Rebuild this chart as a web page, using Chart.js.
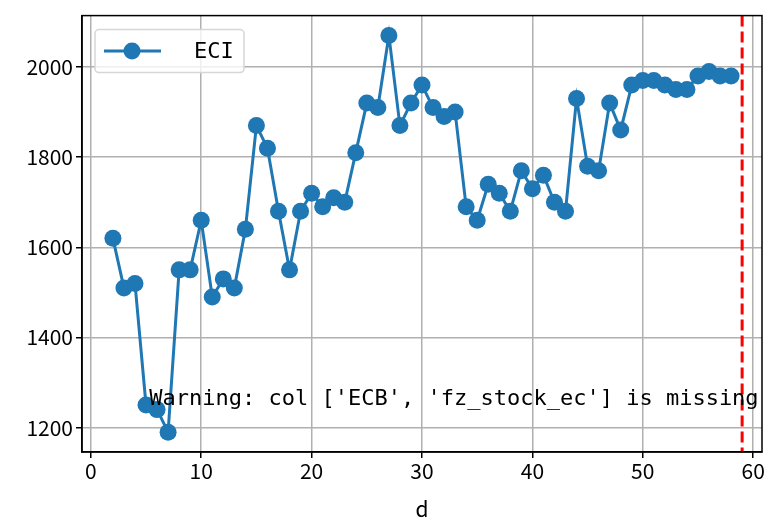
<!DOCTYPE html>
<html>
<head>
<meta charset="utf-8">
<script src="https://cdn.jsdelivr.net/npm/chart.js@4.4.1/dist/chart.umd.min.js"></script>
<style>
  html, body { margin: 0; padding: 0; background: #fff; }
  canvas { display: block; }
</style>
</head>
<body>
<canvas id="eciChart" width="775" height="522"></canvas>
<script>
// values
const days = [2, 3, 4, 5, 6, 7, 8, 9, 10, 11, 12, 13, 14, 15, 16, 17, 18, 19, 20,
    21, 22, 23, 24, 25, 26, 27, 28, 29, 30, 31, 32, 33, 34, 35, 36, 37, 38, 39, 40,
    41, 42, 43, 44, 45, 46, 47, 48, 49, 50, 51, 52, 53, 54, 55, 56, 57, 58];
const eci = [1620, 1510, 1520, 1250, 1240, 1190, 1550, 1550, 1660, 1490, 1530, 1510, 1640, 1870, 1820, 1680, 1550, 1680, 1720,
    1690, 1710, 1700, 1810, 1920, 1910, 2070, 1870, 1920, 1960, 1910, 1890, 1900, 1690, 1660, 1740, 1720, 1680, 1770, 1730,
    1760, 1700, 1680, 1930, 1780, 1770, 1920, 1860, 1960, 1970, 1970, 1960, 1950, 1950, 1980, 1990, 1980, 1980];
const xTicks = [0, 10, 20, 30, 40, 50, 60];
const yTicks = [1200, 1400, 1600, 1800, 2000];
const cutoffDay = 59;
const seriesName = 'ECI';
const warningText = "Warning: col ['ECB', 'fz_stock_ec'] is missing";

const blue = '#1f77b4';
const tickFont = { family: '"Noto Sans CJK SC"', size: 21 };
const monoFont = '"DejaVu Sans Mono"';

// matplotlib-like frame, cutoff line, warning and legend
const extras = {
    id: 'extras',
    afterDatasetsDraw(chart) {
        const { ctx, chartArea: a, scales: { x, y } } = chart;
        ctx.save();

        // red dashed vertical line
        const vx = x.getPixelForValue(cutoffDay);
        ctx.strokeStyle = 'red';
        ctx.lineWidth = 3;
        ctx.setLineDash([11, 5]);
        ctx.beginPath();
        ctx.moveTo(vx, a.top);
        ctx.lineTo(vx, a.bottom);
        ctx.stroke();
        ctx.setLineDash([]);

        // warning text
        ctx.fillStyle = 'black';
        ctx.font = '22px ' + monoFont;
        ctx.textBaseline = 'middle';
        ctx.textAlign = 'left';
        ctx.fillText(warningText, x.getPixelForValue(5.3), y.getPixelForValue(1262));

        // legend box
        const bx = a.left + 13, by = a.top + 14, bw = 149, bh = 43;
        ctx.fillStyle = 'rgba(255,255,255,0.8)';
        ctx.strokeStyle = '#d6d6d6';
        ctx.lineWidth = 1.5;
        ctx.beginPath();
        ctx.roundRect(bx, by, bw, bh, 4);
        ctx.fill();
        ctx.stroke();
        const ly = by + bh / 2;
        ctx.strokeStyle = blue;
        ctx.lineWidth = 3;
        ctx.beginPath();
        ctx.moveTo(bx + 9, ly);
        ctx.lineTo(bx + 66, ly);
        ctx.stroke();
        ctx.fillStyle = blue;
        ctx.beginPath();
        ctx.arc(bx + 37, ly, 8.5, 0, Math.PI * 2);
        ctx.fill();
        ctx.fillStyle = 'black';
        ctx.font = '22px ' + monoFont;
        ctx.fillText(seriesName, bx + 99, ly + 1);

        // axes frame
        ctx.strokeStyle = 'black';
        ctx.lineWidth = 1.5;
        ctx.strokeRect(a.left, a.top, a.right - a.left, a.bottom - a.top);
        ctx.restore();
    }
};

new Chart(document.getElementById('eciChart'), {
    type: 'line',
    data: {
        datasets: [{
            label: seriesName,
            data: days.map((d, i) => ({ x: d, y: eci[i] })),
            borderColor: blue,
            backgroundColor: blue,
            borderWidth: 3,
            pointRadius: 8.5,
            pointHoverRadius: 8.5,
            pointBorderWidth: 0,
            tension: 0
        }]
    },
    options: {
        responsive: false,
        devicePixelRatio: 1,
        animation: false,
        layout: { padding: { left: 0, right: 13, top: 14, bottom: 0 } },
        plugins: {
            legend: { display: false },
            tooltip: { enabled: false }
        },
        scales: {
            x: {
                type: 'linear',
                min: -0.8,
                max: 60.8,
                afterBuildTicks: (scale) => { scale.ticks = xTicks.map(v => ({ value: v })); },
                afterFit: (scale) => { scale.height = 70; },
                grid: { color: '#b0b0b0', lineWidth: 1.5, tickLength: 6, tickColor: 'black' },
                border: { display: true, color: 'black', width: 1.5 },
                ticks: { color: 'black', font: tickFont, padding: 0, maxRotation: 0, callback: (v) => String(v) },
                title: { display: true, text: 'd', color: 'black', font: tickFont, padding: { top: 3, bottom: 0 } }
            },
            y: {
                min: 1146,
                max: 2114,
                afterBuildTicks: (scale) => { scale.ticks = yTicks.map(v => ({ value: v })); },
                afterFit: (scale) => { scale.width = 82; },
                grid: { color: '#b0b0b0', lineWidth: 1.5, tickLength: 6, tickColor: 'black' },
                border: { display: true, color: 'black', width: 1.5 },
                ticks: { color: 'black', font: tickFont, padding: 3, callback: (v) => String(v) }
            }
        }
    },
    plugins: [extras]
});
</script>
</body>
</html>
